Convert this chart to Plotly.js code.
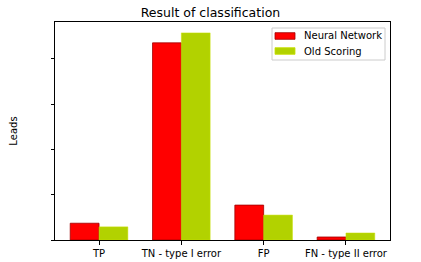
<!DOCTYPE html>
<html>
<head>
<meta charset="utf-8">
<script src="https://cdn.plot.ly/plotly-3.0.1.min.js"></script>
<style>html,body{margin:0;padding:0;background:#fff;}#chart{width:421px;height:262px;}</style>
</head>
<body>
<div id="chart"></div>
<script>
var categories = ["TP", "TN - type I error", "FP", "FN - type II error"];
var seriesNames = ["Neural Network", "Old Scoring"];
var neuralNetwork = [0.37, 4.35, 0.77, 0.066];
var oldScoring = [0.29, 4.57, 0.55, 0.155];
var yTicks = [0, 1, 2, 3, 4];

var colors = ["#ff0000", "#b2d200"];
var edges = ["#a00000", "#c8e000"];

var data = [
  {type: "bar", name: seriesNames[0], x: categories, y: neuralNetwork,
   marker: {color: colors[0], line: {color: edges[0], width: 0.8}}},
  {type: "bar", name: seriesNames[1], x: categories, y: oldScoring,
   marker: {color: colors[1], line: {color: edges[1], width: 0.5}}}
];

// manual legend (matplotlib-like) in paper coordinates
var px = function(v){ return (v - 55) / 335; };
var py = function(v){ return (240 - v) / 218; };
var shapes = [
  {type: "rect", xref: "paper", yref: "paper", x0: px(272), x1: px(385), y0: py(60), y1: py(28),
   line: {color: "#cccccc", width: 1}, fillcolor: "rgba(255,255,255,0.8)", layer: "above"}
];
var annotations = [];
var rowY = [36, 51];
for (var i = 0; i < seriesNames.length; i++) {
  shapes.push({type: "rect", xref: "paper", yref: "paper", x0: px(275), x1: px(295), y0: py(rowY[i] + 3.3), y1: py(rowY[i] - 3.3),
    line: {color: edges[i], width: 0.8}, fillcolor: colors[i], layer: "above"});
  annotations.push({xref: "paper", yref: "paper", x: px(302), y: py(rowY[i]), xanchor: "left", yanchor: "middle",
    text: seriesNames[i], showarrow: false, font: {size: 10, family: "DejaVu Sans", color: "#000"}});
}

var layout = {
  width: 421, height: 262,
  margin: {l: 55, r: 31, t: 22, b: 22},
  paper_bgcolor: "#fff", plot_bgcolor: "#fff",
  font: {family: "DejaVu Sans", size: 10, color: "#000"},
  title: {text: "Result of classification", font: {size: 12.5, family: "DejaVu Sans"}, x: 0.5, xanchor: "center", y: 0.95, yanchor: "middle"},
  barmode: "group", bargap: 0.3, bargroupgap: 0,
  showlegend: false,
  shapes: shapes,
  annotations: annotations,
  xaxis: {type: "category", range: [-0.535, 3.535], showline: true, linecolor: "#000", linewidth: 1, mirror: true, ticks: "outside", ticklen: 3.5, tickcolor: "#000", showgrid: false, zeroline: false, tickfont: {size: 10}},
  yaxis: {range: [0, 4.81], tickvals: yTicks, showticklabels: false, showline: true, linecolor: "#000", linewidth: 1, mirror: true, ticks: "outside", ticklen: 3.5, tickcolor: "#000", showgrid: false, zeroline: false,
    title: {text: "Leads", font: {size: 10}, standoff: 31}}
};

Plotly.newPlot("chart", data, layout, {displayModeBar: false, staticPlot: true});
</script>
</body>
</html>
